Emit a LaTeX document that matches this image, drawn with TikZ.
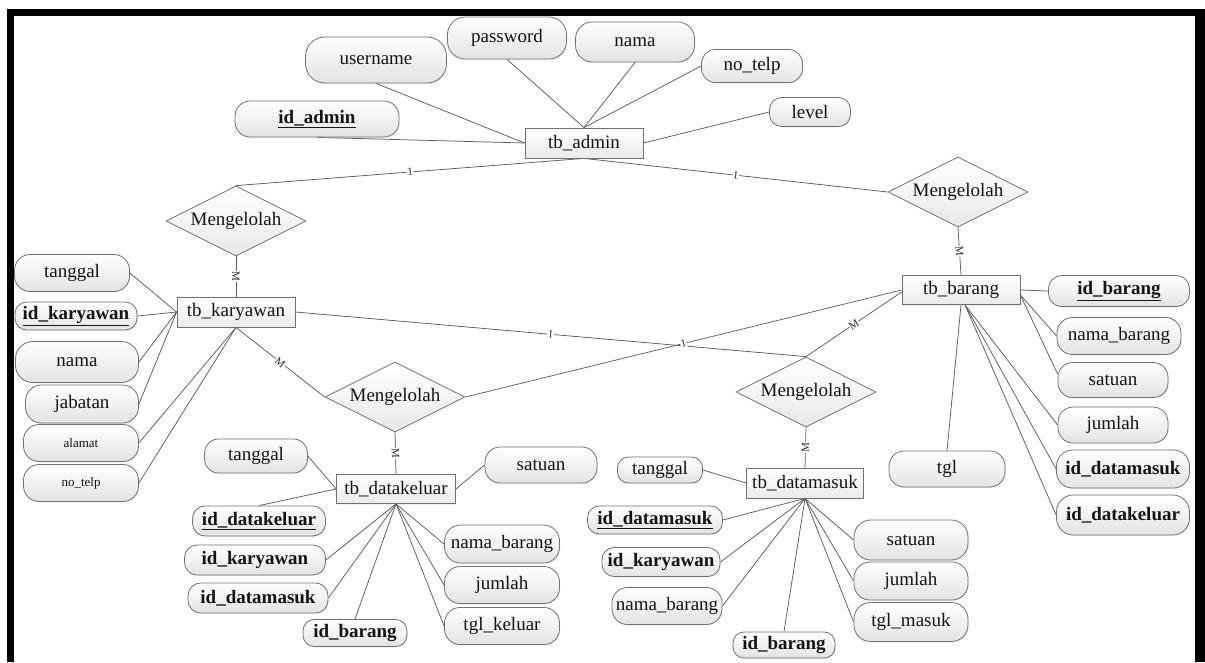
\documentclass[tikz,border=0pt]{standalone}
\usepackage{fontspec}
\setmainfont{Liberation Serif}
\newfontfamily\erdfont{Liberation Serif}
\usetikzlibrary{shapes.geometric,shadows,calc}
\pgfdeclarelayer{bg}
\pgfsetlayers{bg,main}
\definecolor{edgegray}{HTML}{5A5A5A}
\definecolor{edgeblue}{HTML}{56607E}
\definecolor{boxline}{HTML}{707070}

\begin{document}
\begin{tikzpicture}[x=1pt,y=-1pt,
  txt/.style={font=\erdfont\fontsize{19}{22}\selectfont, text=black!92},
  bold/.style={font=\erdfont\fontsize{19}{22}\selectfont\bfseries},
  sz/.style 2 args={minimum width=#1pt, minimum height=#2pt, rounded corners={#2*0.42pt}},
  attr/.style={txt, rectangle, draw=boxline, line width=0.8pt, top color=white, bottom color=black!11,
    inner sep=1pt, drop shadow={shadow xshift=0.8pt, shadow yshift=-1pt, opacity=0.12}},
  small/.style={font=\erdfont\fontsize{13}{15}\selectfont},
  entity/.style={txt, rectangle, draw=boxline, line width=0.8pt, top color=white, bottom color=black!8,
    inner sep=1pt, minimum width=118pt, minimum height=30pt,
    drop shadow={shadow xshift=0.8pt, shadow yshift=-1pt, opacity=0.12}},
  rel/.style={txt, diamond, aspect=2, draw=boxline, line width=0.8pt, top color=white, bottom color=black!9,
    minimum width=140pt, minimum height=70pt, inner sep=0pt},
  conn/.style={draw=edgegray, line width=0.75pt},
  card/.style={sloped, fill=white, inner sep=0.5pt, font=\erdfont\fontsize{11}{11}\selectfont, text=black!85}
]
\useasboundingbox (0,0) rectangle (1205,662);

% black frame (top, left, right)
\fill[black] (7,9) rectangle (1205,16);
\fill[black] (7,9) rectangle (14,662);
\fill[black] (1195,9) rectangle (1205,662);

% ---------- tb_admin ----------
\node[entity] (tbA) at (584,143) {tb\_admin};
\node[attr, sz={141}{46}] (user) at (376,60) {username};
\node[attr, sz={119}{42}] (pass) at (507,38) {password};
\node[attr, sz={119}{40}] (namaA) at (635,42) {nama};
\node[attr, sz={101}{33}] (telpA) at (752,66) {no\_telp};
\node[attr, sz={81}{29}] (level) at (810,112) {level};
\node[attr, sz={164}{36}, bold] (idA) at (317,119) {\underline{id\_admin}};

% ---------- relationships ----------
\node[rel] (relA) at (236,221) {Mengelolah};
\node[rel] (relB) at (958,192) {Mengelolah};
\node[rel] (relC) at (395,397) {Mengelolah};
\node[rel] (relD) at (806,392) {Mengelolah};

% ---------- tb_karyawan ----------
\node[entity] (tbK) at (236,312) {tb\_karyawan};
\node[attr, sz={115}{37}] (kTgl) at (72,273) {tanggal};
\node[attr, sz={122}{28}, bold] (kId) at (76,316) {\underline{id\_karyawan}};
\node[attr, sz={123}{41}] (kNama) at (77,362) {nama};
\node[attr, sz={113}{38}] (kJab) at (82,404) {jabatan};
\node[attr, sz={115}{37}, small] (kAlm) at (81,443) {alamat};
\node[attr, sz={115}{37}, small] (kTelp) at (81,483) {no\_telp};

% ---------- tb_barang ----------
\node[entity, minimum height=29pt] (tbB) at (961,290) {tb\_barang};
\node[attr, sz={141}{31}, bold] (bId) at (1119,291) {\underline{id\_barang}};
\node[attr, sz={124}{37}] (bNama) at (1119,336) {nama\_barang};
\node[attr, sz={110}{35}] (bSat) at (1113,380) {satuan};
\node[attr, sz={110}{36}] (bJml) at (1113,425) {jumlah};
\node[attr, sz={133}{38}, bold] (bMasuk) at (1123,469) {id\_datamasuk};
\node[attr, sz={133}{40}, bold] (bKeluar) at (1123,515) {id\_datakeluar};
\node[attr, sz={116}{36}] (bTgl) at (947,469) {tgl};

% ---------- tb_datakeluar ----------
\node[entity, minimum width=119pt, minimum height=29pt] (tbDK) at (396,489) {tb\_datakeluar};
\node[attr, sz={103}{34}] (dkTgl) at (256,456) {tanggal};
\node[attr, sz={112}{36}] (dkSat) at (541,465) {satuan};
\node[attr, sz={133}{30}, bold] (dkId) at (259,521) {\underline{id\_datakeluar}};
\node[attr, sz={141}{30}, bold] (dkKar) at (255,560) {id\_karyawan};
\node[attr, sz={140}{30}, bold] (dkMasuk) at (258,598) {id\_datamasuk};
\node[attr, sz={104}{27}, bold] (dkBrg) at (355,633) {id\_barang};
\node[attr, sz={115}{38}] (dkNama) at (502,544) {nama\_barang};
\node[attr, sz={115}{37}] (dkJml) at (502,585) {jumlah};
\node[attr, sz={115}{37}] (dkTglK) at (502,626) {tgl\_keluar};

% ---------- tb_datamasuk ----------
\node[entity, minimum width=117pt] (tbDM) at (805,483) {tb\_datamasuk};
\node[attr, sz={85}{26}] (dmTgl) at (660,470) {tanggal};
\node[attr, sz={135}{28}, bold] (dmId) at (655,520) {\underline{id\_datamasuk}};
\node[attr, sz={118}{29}, bold] (dmKar) at (661,562) {id\_karyawan};
\node[attr, sz={110}{37}] (dmNama) at (667,606) {nama\_barang};
\node[attr, sz={102}{26}, bold] (dmBrg) at (784,645) {id\_barang};
\node[attr, sz={114}{40}] (dmSat) at (911,540) {satuan};
\node[attr, sz={114}{38}] (dmJml) at (911,581) {jumlah};
\node[attr, sz={114}{39}] (dmTglM) at (911,622) {tgl\_masuk};

\begin{pgfonlayer}{bg}
  % admin attributes
  \draw[conn] (user.south) -- (tbA.west);
  \draw[conn] (idA.south) -- (tbA.west);
  \draw[conn] (pass.south) -- (tbA.north);
  \draw[conn] (namaA.south) -- (tbA.north);
  \draw[conn] (telpA.west) -- (tbA.north);
  \draw[conn] (level.west) -- (tbA.east);

  % relationships
  \draw[conn] (tbA.south) -- node[card]{1} (relA.north);
  \draw[conn] (tbA.south) -- node[card]{1} (relB.west);
  \draw[conn] (relB.south) -- node[card]{M} (tbB.north);
  \draw[conn] (relA.south) -- node[card]{M} (tbK.north);
  \draw[conn] (tbK.east) -- node[card]{1} (relD.north);
  \draw[conn] (tbK.south) -- node[card]{M} (relC.west);
  \draw[conn, draw=edgeblue] (relC.east) -- node[card]{1} (tbB.west);
  \draw[conn] (relD.north) -- node[card]{M} ([yshift=-2pt]tbB.west);
  \draw[conn] (relC.south) -- node[card]{M} (tbDK.north);
  \draw[conn] (relD.south) -- node[card]{M} (tbDM.north);

  % karyawan attributes
  \draw[conn] (kTgl.east) -- (tbK.west);
  \draw[conn] (kId.east) -- (tbK.west);
  \draw[conn] (kNama.east) -- (tbK.west);
  \draw[conn] (kJab.east) -- (tbK.west);
  \draw[conn] (kAlm.east) -- (tbK.south);
  \draw[conn] (kTelp.east) -- (tbK.south);

  % barang attributes
  \draw[conn] (tbB.east) -- (bId.west);
  \draw[conn] ([yshift=-5pt]tbB.east) -- (bNama.west);
  \draw[conn] ([yshift=-5pt]tbB.east) -- ([yshift=6pt]bSat.west);
  \draw[conn] (tbB.south) -- (bTgl.north);
  \draw[conn] ([xshift=4pt]tbB.south) -- (bJml.west);
  \draw[conn] ([xshift=4pt]tbB.south) -- (bMasuk.west);
  \draw[conn] ([xshift=4pt]tbB.south) -- (bKeluar.west);

  % datakeluar attributes
  \draw[conn] (dkTgl.east) -- (tbDK.west);
  \draw[conn] (dkId.north) -- (tbDK.west);
  \draw[conn] (dkSat.west) -- (tbDK.east);
  \draw[conn] (tbDK.south) -- (dkKar.east);
  \draw[conn] (tbDK.south) -- (dkMasuk.east);
  \draw[conn] (tbDK.south) -- (dkBrg.north);
  \draw[conn] (tbDK.south) -- (dkNama.west);
  \draw[conn] (tbDK.south) -- (dkJml.west);
  \draw[conn] (tbDK.south) -- (dkTglK.west);

  % datamasuk attributes
  \draw[conn] (dmTgl.east) -- (tbDM.west);
  \draw[conn] (tbDM.south) -- (dmId.east);
  \draw[conn] (tbDM.south) -- (dmKar.east);
  \draw[conn] (tbDM.south) -- (dmNama.east);
  \draw[conn] (tbDM.south) -- (dmBrg.north);
  \draw[conn] (tbDM.south) -- (dmSat.west);
  \draw[conn] (tbDM.south) -- (dmJml.west);
  \draw[conn] (tbDM.south) -- (dmTglM.west);
\end{pgfonlayer}
\end{tikzpicture}
\end{document}
